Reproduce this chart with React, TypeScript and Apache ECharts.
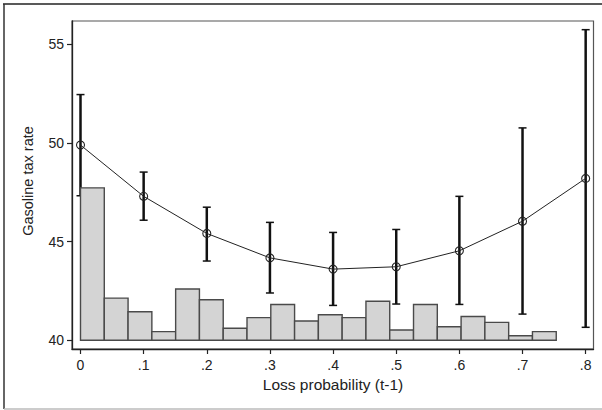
import React, { useEffect, useRef } from "react";
import * as echarts from "echarts";

// Tick labels
const xTicks = [0, 0.1, 0.2, 0.3, 0.4, 0.5, 0.6, 0.7, 0.8];
const yTicks = [40, 45, 50, 55];

// Mean gasoline tax rate by loss probability with confidence intervals
const probX = [0, 0.1, 0.2, 0.3, 0.4, 0.5, 0.6, 0.7, 0.8];
const meanTax = [49.9, 47.3, 45.42, 44.18, 43.61, 43.73, 44.54, 46.04, 48.21];
const ciLow = [47.33, 46.09, 44.02, 42.4, 41.77, 41.84, 41.82, 41.33, 40.66];
const ciHigh = [52.46, 48.53, 46.75, 45.98, 45.47, 45.62, 47.3, 50.77, 55.75];

// Histogram of loss probability (drawn on the tax-rate scale from 40)
const histBase = 40;
const histBinWidth = 0.03767;
const histTops = [
  47.73, 42.14, 41.45, 40.44, 42.6, 42.06, 40.61, 41.15, 41.82, 40.98,
  41.3, 41.15, 41.98, 40.52, 41.82, 40.69, 41.21, 40.91, 40.23, 40.44,
];

const FONT = "'Liberation Sans', Arial, Helvetica, sans-serif";

export default function App() {
  const ref = useRef<HTMLDivElement>(null);

  useEffect(() => {
    if (!ref.current) return;
    const chart = echarts.init(ref.current, null, { renderer: "svg" });

    const histData = histTops.map((t, i) => [i * histBinWidth, (i + 1) * histBinWidth, t]);
    const errData = probX.map((x, i) => [x, ciLow[i], ciHigh[i]]);
    const lineData = probX.map((x, i) => [x, meanTax[i]]);

    chart.setOption({
      animation: false,
      backgroundColor: "#ffffff",
      grid: {
        left: 72,
        top: 21,
        right: 8.5,
        bottom: 61,
        show: true,
        borderColor: "#555",
        borderWidth: 1.2,
        backgroundColor: "transparent",
      },
      xAxis: {
        type: "value",
        min: -0.01346,
        max: 0.8124,
        splitLine: { show: false },
        axisLine: { show: true, onZero: false, lineStyle: { color: "#222", width: 1.3 } },
        axisTick: {
          show: true,
          customValues: xTicks,
          length: 5,
          lineStyle: { color: "#222", width: 1.2 },
        },
        axisLabel: {
          customValues: xTicks,
          margin: 9,
          fontSize: 14,
          fontFamily: FONT,
          color: "#222",
          formatter: (v: number) => (v === 0 ? "0" : "." + Math.round(v * 10)),
        },
      },
      yAxis: {
        type: "value",
        min: 39.56,
        max: 56.19,
        splitLine: { show: false },
        axisLine: { show: true, onZero: false, lineStyle: { color: "#222", width: 1.3 } },
        axisTick: {
          show: true,
          customValues: yTicks,
          length: 5,
          lineStyle: { color: "#222", width: 1.2 },
        },
        axisLabel: {
          customValues: yTicks,
          margin: 8,
          fontSize: 14,
          fontFamily: FONT,
          color: "#222",
        },
      },
      graphic: [
        { type: "line", shape: { x1: 3, y1: 4, x2: 602, y2: 4 }, style: { stroke: "#222", lineWidth: 1.6 } },
        { type: "line", shape: { x1: 4, y1: 4, x2: 4, y2: 409 }, style: { stroke: "#333", lineWidth: 1.5 } },
        { type: "line", shape: { x1: 4, y1: 409, x2: 602, y2: 409 }, style: { stroke: "#bbb", lineWidth: 1.5 } },
        {
          type: "text",
          x: 333,
          y: 384,
          style: {
            text: "Loss probability (t-1)",
            fontSize: 15.5,
            fontFamily: FONT,
            fill: "#222",
            align: "center",
            verticalAlign: "middle",
          },
        },
        {
          type: "text",
          x: 28,
          y: 181,
          rotation: Math.PI / 2,
          style: {
            text: "Gasoline tax rate",
            fontSize: 14.5,
            fontFamily: FONT,
            fill: "#222",
            align: "center",
            verticalAlign: "middle",
          },
        },
      ],
      series: [
        {
          type: "custom",
          name: "ci",
          z: 1,
          data: errData,
          renderItem: (params: any, api: any) => {
            const x = api.value(0);
            const top = api.coord([x, api.value(2)]);
            const bot = api.coord([x, api.value(1)]);
            const hw = 4;
            return {
              type: "group",
              children: [
                { type: "line", shape: { x1: top[0], y1: top[1], x2: bot[0], y2: bot[1] }, style: { stroke: "#111", lineWidth: 2.5 } },
                { type: "line", shape: { x1: top[0] - hw, y1: top[1], x2: top[0] + hw, y2: top[1] }, style: { stroke: "#111", lineWidth: 1.5 } },
                { type: "line", shape: { x1: bot[0] - hw, y1: bot[1], x2: bot[0] + hw, y2: bot[1] }, style: { stroke: "#111", lineWidth: 1.5 } },
              ],
            };
          },
        },
        {
          type: "custom",
          name: "hist",
          z: 2,
          data: histData,
          renderItem: (params: any, api: any) => {
            const p0 = api.coord([api.value(0), api.value(2)]);
            const p1 = api.coord([api.value(1), histBase]);
            return {
              type: "rect",
              shape: { x: p0[0], y: p0[1], width: p1[0] - p0[0], height: p1[1] - p0[1] },
              style: { fill: "#d4d4d4", stroke: "#4a4a4a", lineWidth: 1.4 },
            };
          },
        },
        {
          type: "line",
          name: "mean",
          z: 3,
          data: lineData,
          symbol: "circle",
          symbolSize: 8,
          showAllSymbol: true,
          lineStyle: { color: "#222", width: 1 },
          itemStyle: { color: "rgba(255,255,255,0)", borderColor: "#222", borderWidth: 1.1 },
        },
      ],
    });

    return () => chart.dispose();
  }, []);

  return (
    <div
      ref={ref}
      style={{ position: "fixed", left: 0, top: 0, width: 602, height: 410 }}
    />
  );
}
